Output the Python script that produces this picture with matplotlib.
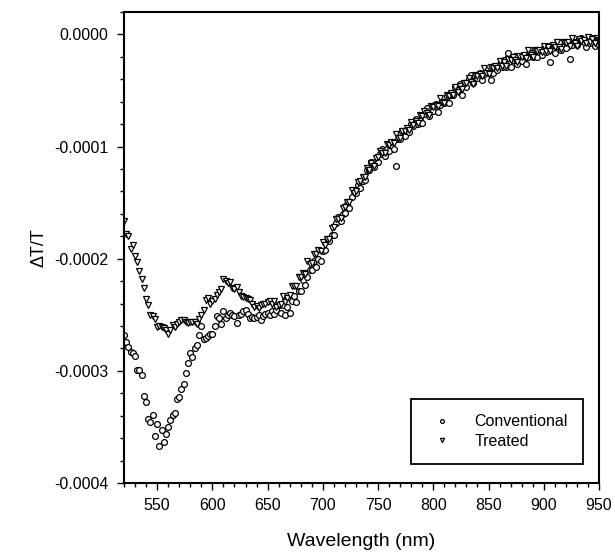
import numpy as np
import matplotlib
matplotlib.use("Agg")
import matplotlib.pyplot as plt
from matplotlib.ticker import MultipleLocator, FormatStrFormatter

plt.rcParams['font.family'] = ['Liberation Sans', 'DejaVu Sans']

# measurement grid: 520 ... 950 nm, every 2 nm
wavelength = list(range(520, 952, 2))

# dT/T in units of 1e-6, one row = 20 nm
conventional = [
    -268, -274, -279, -283, -284, -287, -299, -299, -304, -322,
    -328, -343, -346, -339, -358, -347, -367, -353, -363, -356,
    -350, -344, -339, -338, -325, -323, -316, -312, -302, -293,
    -284, -288, -280, -277, -268, -260, -272, -271, -269, -267,
    -267, -260, -251, -253, -258, -247, -253, -250, -248, -250,
    -251, -257, -250, -249, -247, -246, -249, -253, -252, -253,
    -252, -250, -255, -251, -249, -248, -250, -247, -249, -246,
    -241, -248, -241, -250, -243, -248, -238, -233, -239, -229,
    -229, -219, -223, -216, -210, -210, -202, -207, -200, -202,
    -193, -192, -184, -184, -179, -179, -168, -163, -166, -160,
    -159, -151, -155, -145, -140, -141, -134, -137, -131, -130,
    -121, -121, -114, -118, -113, -114, -107, -102, -108, -102,
    -104, -96, -102, -117, -93, -93, -86, -91, -86, -87,
    -80, -82, -75, -80, -76, -79, -71, -66, -73, -67,
    -68, -62, -69, -63, -60, -61, -55, -61, -54, -54,
    -47, -50, -44, -54, -45, -47, -40, -36, -43, -37,
    -39, -34, -41, -35, -32, -34, -41, -34, -30, -32,
    -26, -29, -23, -29, -17, -29, -23, -19, -26, -22,
    -24, -18, -26, -20, -17, -20, -14, -20, -16, -18,
    -12, -16, -10, -25, -13, -17, -10, -7, -14, -10,
    -12, -7, -22, -9, -7, -9, -4, -3, -7, -11,
    -5, -8, -3, -10, -7, -9]

treated = [
    -166, -178, -180, -191, -188, -198, -203, -211, -218, -226,
    -236, -241, -250, -251, -254, -261, -260, -261, -262, -264,
    -267, -264, -259, -261, -258, -256, -255, -255, -256, -257,
    -256, -256, -256, -258, -254, -250, -246, -237, -235, -240,
    -238, -236, -232, -230, -227, -218, -220, -222, -221, -226,
    -227, -225, -230, -233, -234, -235, -236, -237, -240, -243,
    -242, -244, -241, -240, -240, -239, -238, -240, -238, -243,
    -241, -240, -233, -239, -235, -232, -224, -224, -224, -216,
    -216, -213, -214, -202, -205, -204, -196, -196, -192, -193,
    -185, -188, -182, -182, -173, -172, -165, -165, -164, -155,
    -154, -149, -149, -139, -141, -140, -132, -131, -127, -127,
    -119, -121, -115, -117, -110, -109, -104, -106, -106, -98,
    -99, -96, -97, -89, -92, -92, -86, -86, -83, -85,
    -78, -81, -77, -79, -72, -73, -68, -70, -72, -64,
    -65, -63, -64, -57, -60, -61, -54, -55, -52, -54,
    -47, -51, -46, -49, -43, -43, -39, -42, -44, -36,
    -37, -35, -37, -30, -34, -35, -29, -30, -28, -30,
    -24, -28, -25, -28, -22, -23, -20, -23, -25, -19,
    -20, -18, -21, -14, -18, -20, -14, -15, -14, -16,
    -10, -15, -11, -15, -9, -11, -7, -11, -13, -7,
    -8, -7, -10, -3, -8, -10, -4, -6, -5, -8,
    -2, -7, -4, -8, -3, -5]

x = np.array(wavelength)
y_conv = np.array(conventional) * 1e-6
y_treat = np.array(treated) * 1e-6

fig = plt.figure(figsize=(6.15, 5.58), dpi=100)
ax = fig.add_axes([0.2016, 0.1344, 0.7724, 0.8441])

ax.plot(x, y_conv, 'o', ms=4.2, mfc='white', mec='black', mew=0.9, label='Conventional')
ax.plot(x, y_treat, 'v', ms=4.6, mfc='white', mec='black', mew=0.9, label='Treated')

ax.set_xlim(520, 950)
ax.set_ylim(-0.0004, 0.00002)
ax.xaxis.set_major_locator(MultipleLocator(50))
ax.xaxis.set_minor_locator(MultipleLocator(10))
ax.yaxis.set_major_locator(MultipleLocator(0.0001))
ax.yaxis.set_minor_locator(MultipleLocator(0.00002))
ax.yaxis.set_major_formatter(FormatStrFormatter('%.4f'))
ax.set_xticks([550, 600, 650, 700, 750, 800, 850, 900, 950])

ax.tick_params(which='major', direction='out', length=5, width=1, labelsize=11.5, pad=6)
ax.tick_params(which='minor', direction='out', length=3, width=1)
ax.tick_params(top=False, right=False)
for s in ax.spines.values():
    s.set_linewidth(1.5)

ax.set_xlabel('Wavelength (nm)', fontsize=14, labelpad=14)
ax.set_ylabel('ΔT/T', fontsize=13, labelpad=5)

leg = ax.legend(loc='lower right', bbox_to_anchor=(0.966, 0.040), borderaxespad=0,
                fontsize=11.5, frameon=True, fancybox=False, framealpha=1,
                edgecolor='black', markerscale=0.65, borderpad=0.95,
                handlelength=2, handletextpad=1.0, labelspacing=0.3)
leg.get_frame().set_linewidth(1.3)

fig.savefig('out.png', dpi=100)
